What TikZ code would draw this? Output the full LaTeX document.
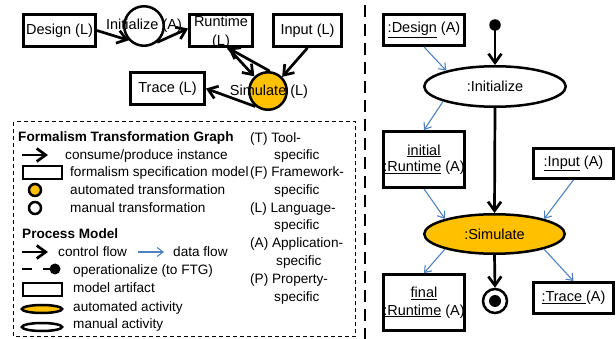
\documentclass[tikz,border=0pt]{standalone}
\usepackage{fontspec}
\setmainfont{Liberation Sans}
\usetikzlibrary{arrows.meta,shapes.geometric}
\definecolor{autofill}{HTML}{FFC000}
\definecolor{dataflow}{HTML}{4F81BD}

\begin{document}
\begin{tikzpicture}[x=1pt,y=-1pt,
  font=\fontsize{14.5}{17}\selectfont,
  art/.style={draw, line width=2.8pt, inner sep=0pt},
  ftgcirc/.style={draw, circle, line width=2.5pt, inner sep=0pt},
  act/.style={draw, ellipse, line width=2.5pt, inner sep=0pt},
  consume/.style={line width=2.7pt, -{Straight Barb[length=9pt,width=13pt]}},
  ctrl/.style={line width=2.7pt, -{Straight Barb[length=9pt,width=13pt]}},
  data/.style={draw=dataflow, line width=1.1pt, -{Straight Barb[length=6pt,width=9pt]}},
  lgtext/.style={anchor=base west, inner sep=0pt, font=\fontsize{13.6}{16}\selectfont},
  lgbold/.style={lgtext, font=\fontsize{13.6}{16}\selectfont\bfseries},
]
\useasboundingbox (0,0) rectangle (616,339);

% ---------------- Formalism Transformation Graph ----------------
\node[art, minimum width=72pt, minimum height=32pt] (fdesign) at (59.5,30.5) {Design (L)};
\node[ftgcirc, minimum size=39.5pt] (finit) at (144,26) {};
\node[art, minimum width=63pt, minimum height=32pt] (fruntime) at (221,30.5) {};
\node[art, minimum width=68pt, minimum height=32pt] (finput) at (307.5,30.5) {Input (L)};
\node[art, minimum width=74pt, minimum height=32pt] (ftrace) at (167.5,88.5) {Trace (L)};
\node[ftgcirc, fill=autofill, minimum size=37.5pt] (fsim) at (268,91) {};

\draw[consume] (fdesign.east) -- (finit.223);
\draw[consume] (finit.309) -- ([yshift=2pt]fruntime.west);
\draw[consume] ([xshift=7pt]fruntime.south) -- (fsim.133);
\draw[consume] (fsim.85) -- ([xshift=7pt]fruntime.south);
\draw[consume] (finput.south) -- (fsim.45);
\draw[consume] (fsim.231) -- (ftrace.east);

\node[inner sep=0pt] (finitlbl) at (144,26) {Initialize (A)};
\node[inner sep=0pt, align=center, font=\fontsize{14.5}{19}\selectfont] (fruntimelbl) at (221,32) {Runtime\\(L)};
\node[inner sep=0pt] (fsimlbl) at (269,92) {Simulate (L)};

% ---------------- Legend ----------------
\draw[line width=1pt, dash pattern=on 4pt off 3pt] (13.5,122) rectangle (355.5,336.5);

\node[lgbold] (lgftg) at (18,142) {Formalism Transformation Graph};
\coordinate (lga0) at (22,155); \coordinate (lga1) at (48,155);
\draw[consume] (lga0) -- (lga1);
\node[lgtext] (lgcons) at (65,160) {consume/produce instance};
\node[art, minimum width=39pt, minimum height=13pt] (lgfsm) at (42.5,172.5) {};
\node[lgtext] (lgfsmt) at (70,177) {formalism specification model};
\node[ftgcirc, fill=autofill, minimum size=12pt] (lgauto) at (35,190) {};
\node[lgtext] (lgautot) at (70,195) {automated transformation};
\node[ftgcirc, minimum size=12pt] (lgman) at (35,208) {};
\node[lgtext] (lgmant) at (70,213) {manual transformation};

\node[lgbold] (lgpm) at (22,239) {Process Model};
\coordinate (lgc0) at (22,252); \coordinate (lgc1) at (48,252);
\draw[ctrl] (lgc0) -- (lgc1);
\node[lgtext] (lgctrl) at (58,257) {control flow};
\coordinate (lgd0) at (138,252); \coordinate (lgd1) at (164,252);
\draw[data] (lgd0) -- (lgd1);
\node[lgtext] (lgdata) at (173,257) {data flow};
\coordinate (lgo0) at (22,269);
\node[circle, fill, inner sep=0pt, minimum size=11pt] (lgodot) at (55,269) {};
\draw[line width=2.7pt, dash pattern=on 10pt off 11pt] (lgo0) -- (lgodot.center);
\node[lgtext] (lgop) at (73,274) {operationalize (to FTG)};
\node[art, minimum width=39pt, minimum height=13pt] (lgart) at (42.5,289.5) {};
\node[lgtext] (lgartt) at (73,293) {model artifact};
\node[act, fill=autofill, minimum width=40pt, minimum height=8pt] (lgaa) at (42,309) {};
\node[lgtext] (lgaat) at (73,311) {automated activity};
\node[act, minimum width=40pt, minimum height=8pt] (lgma) at (42,327) {};
\node[lgtext] (lgmat) at (73,328) {manual activity};

\node[lgtext] (lgT) at (250,142.5) {(T) Tool-};
\node[lgtext] (lgTs) at (274,160) {specific};
\node[lgtext] (lgF) at (250,177) {(F) Framework-};
\node[lgtext] (lgFs) at (274,195) {specific};
\node[lgtext] (lgL) at (250,212.5) {(L) Language-};
\node[lgtext] (lgLs) at (274,230) {specific};
\node[lgtext] (lgA) at (250,247.5) {(A) Application-};
\node[lgtext] (lgAs) at (276,265.5) {specific};
\node[lgtext] (lgP) at (250,283.5) {(P) Property-};
\node[lgtext] (lgPs) at (274,301.5) {specific};

% ---------------- separator ----------------
\coordinate (sep0) at (365,5); \coordinate (sep1) at (365,339);
\draw[line width=2.6pt, dash pattern=on 12pt off 7pt] (sep0) -- (sep1);

% ---------------- Process Model ----------------
\node[art, minimum width=81pt, minimum height=31pt] (design) at (424,30) {\underline{:Design} (A)};
\node[circle, fill, inner sep=0pt, minimum size=11.5pt] (start) at (495,25) {};
\node[act, minimum width=141.5pt, minimum height=40.5pt] (init) at (495,86.5) {:Initialize};
\node[art, minimum width=81pt, minimum height=56pt, align=center,
      font=\fontsize{14.5}{16.5}\selectfont] (rt0) at (424,159.5) {\underline{initial}\\\underline{:Runtime} (A)};
\node[art, minimum width=80pt, minimum height=30pt] (input) at (573.5,163.5) {\underline{:Input} (A)};
\node[act, fill=autofill, minimum width=140.5pt, minimum height=39.5pt] (sim) at (494.5,234) {:Simulate};
\node[circle, draw, line width=2.5pt, inner sep=0pt, minimum size=24pt] (stop) at (495,301) {};
\node[circle, fill, inner sep=0pt, minimum size=12pt] (stopdot) at (stop.center) {};
\node[art, minimum width=81pt, minimum height=56pt, align=center,
      font=\fontsize{14.5}{17.5}\selectfont] (rt1) at (424,302.5) {\underline{final}\\\underline{:Runtime} (A)};
\node[art, minimum width=80pt, minimum height=31pt] (trace) at (573.5,298) {\underline{:Trace\ }(A)};

\draw[ctrl] (start.center) -- (init.north);
\draw[ctrl] (init.south) -- (sim.north);
\draw[ctrl] (sim.south) -- (stop.north);

\draw[data] (design.south) -- (init.162);
\draw[data] (init.196) -- (rt0.north);
\draw[data] (rt0.south) -- (sim.163);
\draw[data] (input.south) -- (sim.17);
\draw[data] (sim.197) -- (rt1.north);
\draw[data] (sim.343) -- (trace.north);
\end{tikzpicture}
\end{document}
